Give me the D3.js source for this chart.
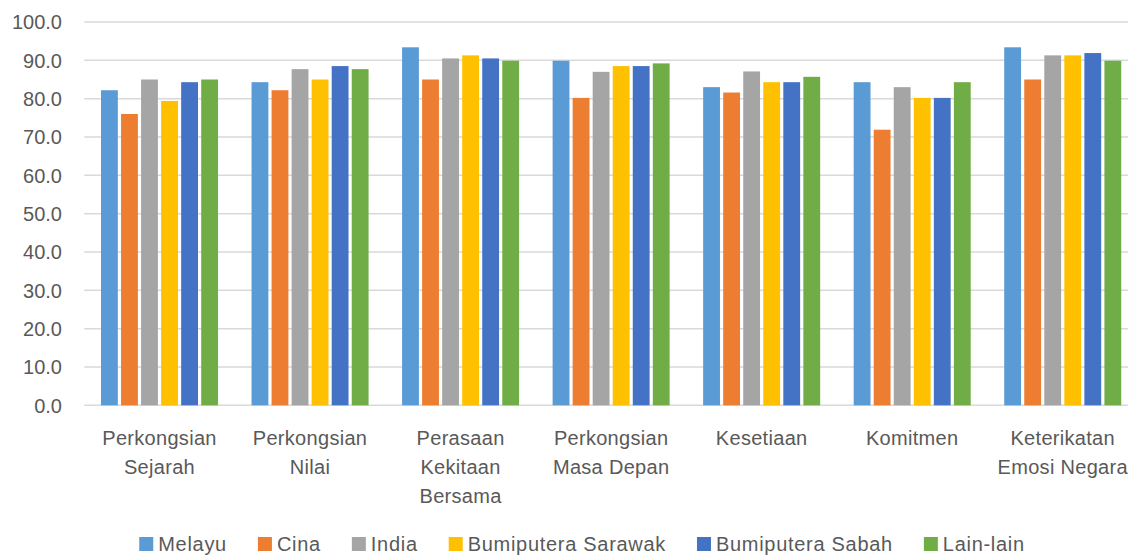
<!DOCTYPE html>
<html>
<head>
<meta charset="utf-8">
<script src="https://cdn.jsdelivr.net/npm/d3@7/dist/d3.min.js"></script>
<style>
  html, body { margin: 0; padding: 0; background: #fff; }
  svg { display: block; }
  text { font-family: "Liberation Sans", Arial, sans-serif; fill: #595959; }
</style>
</head>
<body>
<svg id="chart" width="1128" height="556"></svg>
<script>
// Dimension labels (each entry is the lines of a wrapped label)
const categories = [
  ["Perkongsian", "Sejarah"],
  ["Perkongsian", "Nilai"],
  ["Perasaan", "Kekitaan", "Bersama"],
  ["Perkongsian", "Masa Depan"],
  ["Kesetiaan"],
  ["Komitmen"],
  ["Keterikatan", "Emosi Negara"]
];

const seriesNames = ["Melayu", "Cina", "India", "Bumiputera Sarawak", "Bumiputera Sabah", "Lain-lain"];
const seriesColors = ["#5B9BD5", "#ED7D31", "#A5A5A5", "#FFC000", "#4472C4", "#70AD47"];

// Scores per ethnic group, one value per dimension
const melayu  = [82.2, 84.3, 93.4, 89.9, 83.0, 84.3, 93.4];
const cina    = [76.0, 82.2, 85.0, 80.2, 81.6, 71.9, 85.0];
const india   = [85.0, 87.7, 90.5, 87.0, 87.1, 83.0, 91.3];
const sarawak = [79.4, 85.0, 91.3, 88.5, 84.3, 80.2, 91.3];
const sabah   = [84.3, 88.5, 90.5, 88.5, 84.3, 80.2, 91.9];
const lain    = [85.0, 87.7, 89.9, 89.2, 85.7, 84.3, 89.9];

const yTicks = [0, 10, 20, 30, 40, 50, 60, 70, 80, 90, 100];

const seriesValues = [melayu, cina, india, sarawak, sabah, lain];

const svg = d3.select("#chart");

const plot = { left: 84.25, right: 1138, top: 22, bottom: 405.3 };

const x0 = d3.scaleBand()
  .domain(d3.range(categories.length))
  .range([plot.left, plot.right])
  .paddingInner(0)
  .paddingOuter(0);

const groupInner = 117 / 150.5;
const x1 = d3.scaleBand()
  .domain(d3.range(seriesNames.length))
  .range([0, x0.bandwidth() * groupInner])
  .paddingInner(0.16)
  .paddingOuter(0);

const y = d3.scaleLinear().domain([0, 100]).range([plot.bottom, plot.top]);

// Horizontal gridlines
svg.append("g")
  .selectAll("line")
  .data(yTicks)
  .join("line")
  .attr("x1", plot.left)
  .attr("x2", plot.right)
  .attr("y1", d => y(d))
  .attr("y2", d => y(d))
  .attr("stroke", "#d9d9d9")
  .attr("stroke-width", 1.5);

// Y tick labels
svg.append("g")
  .selectAll("text")
  .data(yTicks)
  .join("text")
  .attr("x", 62)
  .attr("y", d => y(d))
  .attr("dy", "0.36em")
  .attr("text-anchor", "end")
  .style("font-size", "20px")
  .text(d => d3.format(".1f")(d));

// Bars
const groupOffset = x0.bandwidth() * (1 - groupInner) / 2;
const groups = svg.append("g")
  .selectAll("g")
  .data(categories.map((c, i) => i))
  .join("g")
  .attr("transform", i => `translate(${x0(i) + groupOffset},0)`);

groups.selectAll("rect")
  .data(i => seriesValues.map((vals, s) => ({ s, v: vals[i] })))
  .join("rect")
  .attr("x", d => x1(d.s))
  .attr("width", x1.bandwidth())
  .attr("y", d => y(d.v))
  .attr("height", d => y(0) - y(d.v))
  .attr("fill", d => seriesColors[d.s]);

// Category labels
const catG = svg.append("g")
  .selectAll("text")
  .data(categories)
  .join("text")
  .attr("text-anchor", "middle")
  .style("font-size", "20px")
  .style("letter-spacing", "0.3px");

catG.selectAll("tspan")
  .data((lines, i) => lines.map(l => ({ l, i })))
  .join("tspan")
  .attr("x", d => x0(d.i) + x0.bandwidth() / 2)
  .attr("y", (d, k) => 445 + k * 29)
  .text(d => d.l);

// Legend
const legend = svg.append("g");
const items = legend.selectAll("g")
  .data(seriesNames)
  .join("g");

items.append("rect")
  .attr("width", 14)
  .attr("height", 14)
  .attr("y", 537)
  .attr("fill", (d, i) => seriesColors[i]);

items.append("text")
  .attr("x", 19)
  .attr("y", 551)
  .style("font-size", "20px")
  .style("letter-spacing", "0.7px")
  .text(d => d);

const gap = 31;
let cursor = 0;
const offsets = [];
items.each(function () {
  const w = 19 + d3.select(this).select("text").node().getComputedTextLength();
  offsets.push(cursor);
  cursor += w + gap;
});
const total = cursor - gap;
const startX = 582 - total / 2;
items.attr("transform", (d, i) => `translate(${startX + offsets[i]},0)`);
</script>
</body>
</html>
